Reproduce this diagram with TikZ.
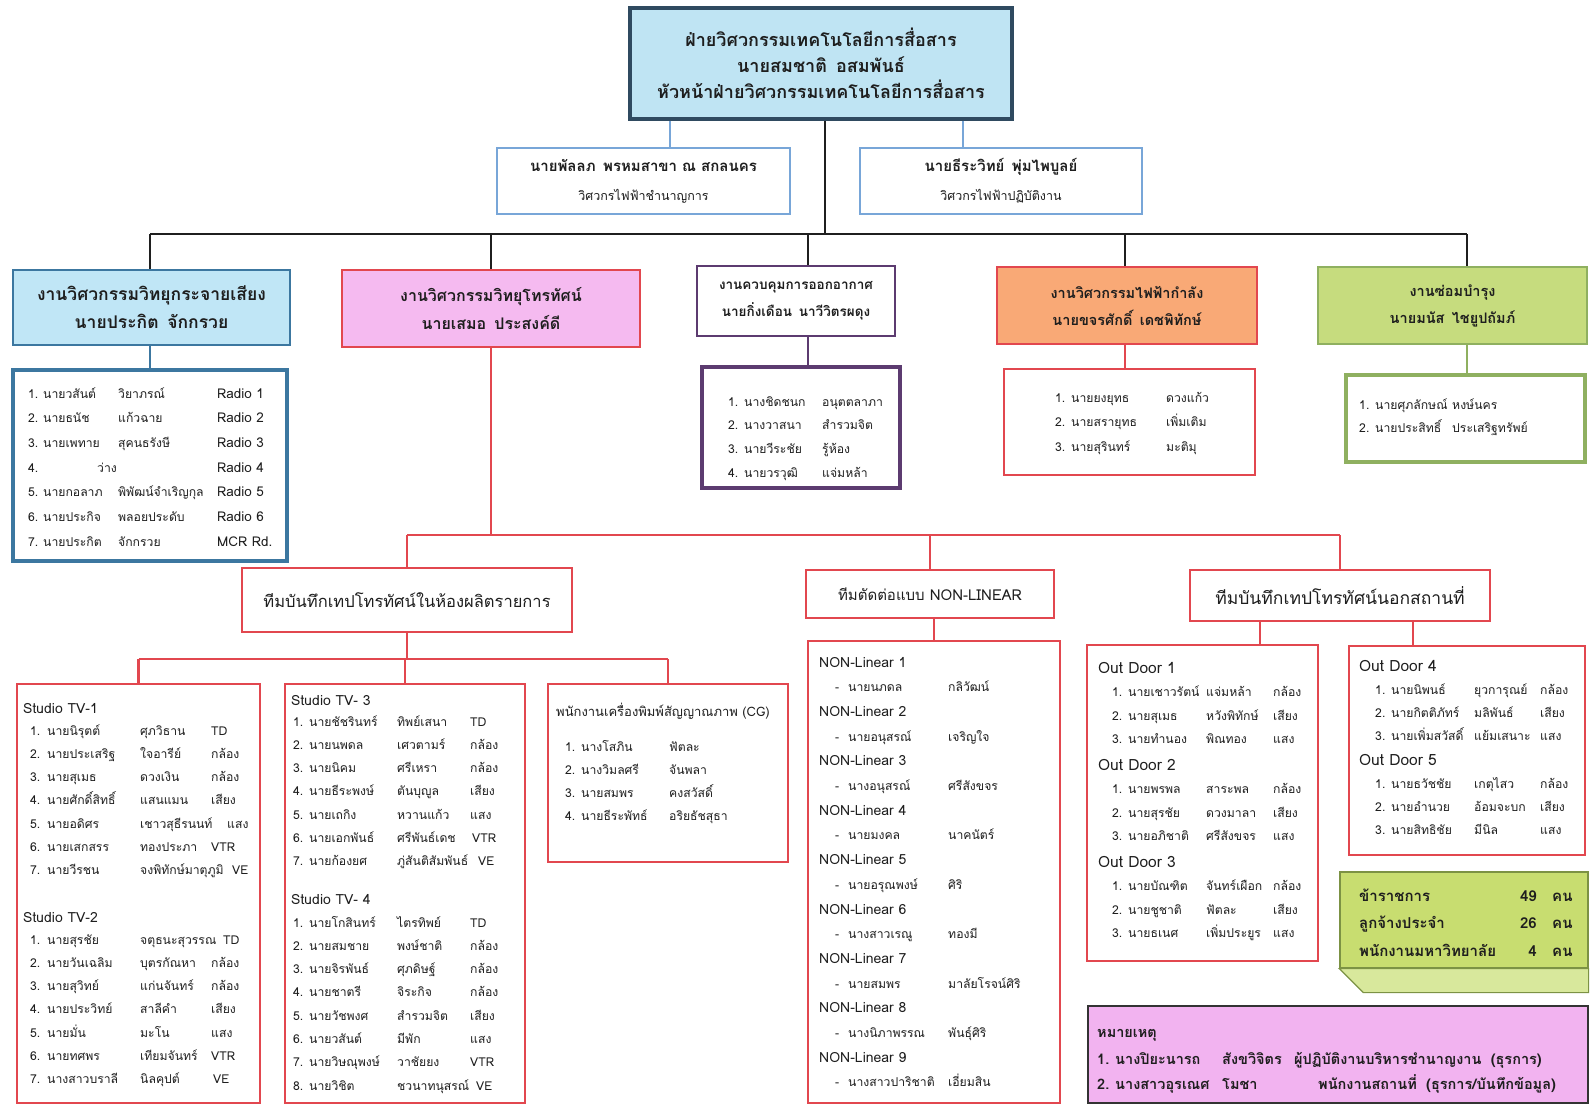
\documentclass[tikz,border=0pt]{standalone}
\usepackage{fontspec}
\setmainfont{Loma}[Script=Thai]
\usetikzlibrary{positioning}

\definecolor{topfill}{HTML}{BFE4F3}
\definecolor{topline}{HTML}{2F4A60}
\definecolor{engline}{HTML}{78A6D8}
\definecolor{bluefill}{HTML}{C0E6F6}
\definecolor{blueline}{HTML}{3C77A0}
\definecolor{pinkfill}{HTML}{F5BAF0}
\definecolor{redline}{HTML}{E2474F}
\definecolor{purpline}{HTML}{5C3B70}
\definecolor{orangefill}{HTML}{F9A976}
\definecolor{greenfill}{HTML}{C6DC7E}
\definecolor{greenline}{HTML}{8FB060}
\definecolor{tallyfill}{HTML}{C8DD70}
\definecolor{tallybevel}{HTML}{D8E89C}
\definecolor{tallyline}{HTML}{7C9244}
\definecolor{notefill}{HTML}{F2B3F0}
\definecolor{ink}{HTML}{1E1E1E}

\newcommand\headsz{\fontsize{18}{26}\selectfont}
\newcommand\deptsz{\fontsize{14.5}{27}\selectfont}
\newcommand\listsz{\fontsize{12.2}{14}\selectfont}

\tikzset{
  sz/.style 2 args={minimum width=#1pt, minimum height=#2pt},
  frame/.style={rectangle, inner sep=0pt, text=ink, align=center, fill=white},
  headbox/.style={frame, draw=topline, fill=topfill, line width=3.5pt, font=\headsz\bfseries},
  engbox/.style={frame, draw=engline, line width=1.6pt, font=\fontsize{15}{29}\selectfont\bfseries},
  deptbox/.style={frame, line width=2.6pt, font=\deptsz\bfseries},
  crewbox/.style={frame, line width=3.2pt},
  teambox/.style={frame, draw=redline, line width=2.2pt},
  lst/.style={anchor=west, inner sep=0pt, text=ink, font=\listsz, text height=9pt, text depth=3pt},
  lsthead/.style={lst, font=\fontsize{14}{16}\selectfont},
  trunk/.style={draw=black!88, line width=2.6pt},
  redwire/.style={draw=redline, line width=2.2pt},
}

\begin{document}
\begin{tikzpicture}[x=1pt,y=-1pt]
\useasboundingbox (0,0) rectangle (1590,1105);
\fill[white] (0,0) rectangle (1590,1105);

% Head of division
\node[headbox, sz={382}{111}] (head) at (821,63.5)
  {ฝ่ายวิศวกรรมเทคโนโลยีการสื่อสาร\\นายสมชาติ\hspace{0.5em}อสมพันธ์\\หัวหน้าฝ่ายวิศวกรรมเทคโนโลยีการสื่อสาร};

% Engineers
\node[engbox, sz={293}{66}] (e1) at (643.5,181)
  {นายพัลลภ\hspace{0.5em}พรหมสาขา ณ สกลนคร\\{\fontsize{12.5}{14}\selectfont\mdseries วิศวกรไฟฟ้าชำนาญการ}};
\node[engbox, sz={282}{66}] (e2) at (1001,181)
  {นายธีระวิทย์\hspace{0.5em}พุ่มไพบูลย์\\{\fontsize{12.5}{14}\selectfont\mdseries วิศวกรไฟฟ้าปฏิบัติงาน}};
\coordinate (kL) at (670,0);
\coordinate (kR) at (963,0);
\draw[draw=engline, line width=2pt] (head.south -| kL) -- (e1.north -| kL);
\draw[draw=engline, line width=2pt] (head.south -| kR) -- (e2.north -| kR);

% Departments
\node[deptbox, draw=blueline, fill=bluefill, sz={277}{75}, font=\fontsize{17.5}{28}\selectfont\bfseries] (d1) at (151.5,307.5)
  {งานวิศวกรรมวิทยุกระจายเสียง\\นายประกิต\hspace{0.5em}จักกรวย};
\node[deptbox, draw=redline, fill=pinkfill, sz={298}{77}, font=\fontsize{16}{28}\selectfont\bfseries] (d2) at (491,308.5)
  {งานวิศวกรรมวิทยุโทรทัศน์\\นายเสมอ\hspace{0.5em}ประสงค์ดี};
\node[deptbox, draw=purpline, sz={198}{70}, font=\fontsize{13.5}{27}\selectfont\bfseries] (d3) at (796,301)
  {งานควบคุมการออกอากาศ\\นายกิ่งเดือน\hspace{0.5em}นาวีวิตรผดุง};
\node[deptbox, draw=redline, fill=orangefill, sz={260}{77}] (d4) at (1127,305.5)
  {งานวิศวกรรมไฟฟ้ากำลัง\\นายขจรศักดิ์\hspace{0.5em}เดชพิทักษ์};
\node[deptbox, draw=greenline, fill=greenfill, sz={269}{77}] (d5) at (1452.5,305.5)
  {งานซ่อมบำรุง\\นายมนัส\hspace{0.5em}ไชยูปถัมภ์};

% Staff boxes
\node[crewbox, draw=blueline, sz={274}{191}] (m1) at (150,465.5) {};
\node[crewbox, draw=purpline, sz={198}{121}] (m3) at (801,427.5) {};
\node[crewbox, draw=redline, line width=2.4pt, sz={251}{106}] (m4) at (1129.5,422) {};
\node[crewbox, draw=greenline, sz={239}{87}] (m5) at (1465.5,418.5) {};

% Black bus
\coordinate (bus) at (0,234);
\coordinate (k1) at (150,0);
\coordinate (k3) at (808,0);
\coordinate (k4) at (1125,0);
\coordinate (k5) at (1467,0);
\draw[trunk] (head.south -| 825,0) -- (bus -| 825,0);
\draw[trunk] (bus -| k1) -- (bus -| k5);
\draw[trunk] (bus -| k1) -- (d1.north -| k1);
\draw[trunk] (bus -| d2.north) -- (d2.north);
\draw[trunk] (bus -| k3) -- (d3.north -| k3);
\draw[trunk] (bus -| k4) -- (d4.north -| k4);
\draw[trunk] (bus -| k5) -- (d5.north -| k5);
\draw[draw=blueline, line width=2.6pt] (d1.south -| k1) -- (m1.north -| k1);
\draw[draw=purpline, line width=2.6pt] (d3.south -| k3) -- (m3.north -| k3);
\draw[redwire] (d4.south -| k4) -- (m4.north -| k4);
\draw[draw=greenline, line width=2.6pt] (d5.south -| k5) -- (m5.north -| k5);

% Radio staff
\foreach \fn/\sn/\rl [count=\i] in {นายวสันต์/วิยาภรณ์/Radio 1, นายธนัช/แก้วฉาย/Radio 2, นายเพทาย/สุคนธรังษี/Radio 3, {\hspace{54pt}ว่าง}/{}/Radio 4, นายกอลาภ/พิพัฒน์จำเริญกุล/Radio 5, นายประกิจ/พลอยประดับ/Radio 6, นายประกิต/จักกรวย/MCR Rd.}{
  \pgfmathsetmacro\yy{395+24.7*(\i-1)}
  \node[lst] (rn\i) at (28,\yy) {\i.};
  \node[lst] (ra\i) at (43,\yy) {\fn};
  \node[lst] (rb\i) at (118,\yy) {\sn};
  \node[lst, font=\fontsize{13.5}{15}\selectfont] (rr\i) at (217,\yy) {\rl};
}
% On-air staff
\foreach \fn/\sn [count=\i] in {นางชิดชนก/อนุตตลาภา, นางวาสนา/สำรวมจิต, นายวีระชัย/รู้ห้อง, นายวรวุฒิ/แจ่มหล้า}{
  \pgfmathsetmacro\yy{403+23.7*(\i-1)}
  \node[lst] (an\i) at (728,\yy) {\i.};
  \node[lst] (aa\i) at (744,\yy) {\fn};
  \node[lst] (ab\i) at (822,\yy) {\sn};
}
% Power staff
\foreach \fn/\sn [count=\i] in {นายยงยุทธ/ดวงแก้ว, นายสรายุทธ/เพิ่มเติม, นายสุรินทร์/มะติมุ}{
  \pgfmathsetmacro\yy{399+24.5*(\i-1)}
  \node[lst] (pn\i) at (1055,\yy) {\i.};
  \node[lst] (pa\i) at (1071,\yy) {\fn};
  \node[lst] (pb\i) at (1166,\yy) {\sn};
}
% Maintenance staff
\foreach \fn/\sn [count=\i] in {นายศุภลักษณ์/หงษ์นคร, นายประสิทธิ์/ประเสริฐทรัพย์}{
  \pgfmathsetmacro\yy{406+23.5*(\i-1)}
  \node[lst] (gn\i) at (1359,\yy) {\i.};
  \node[lst] (ga\i) at (1375,\yy) {\fn};
  \node[lst] (gb\i) at (1452,\yy) {\sn};
}

% TV teams
\node[teambox, sz={330}{64}, font=\fontsize{16.5}{18}\selectfont] (t1) at (407,600) {ทีมบันทึกเทปโทรทัศน์ในห้องผลิตรายการ};
\node[teambox, sz={248}{48}, font=\fontsize{15}{18}\selectfont] (t2) at (930,594) {ทีมตัดต่อแบบ NON-LINEAR};
\node[teambox, sz={300}{51}, font=\fontsize{17.5}{18}\selectfont] (t3) at (1340,595.5) {ทีมบันทึกเทปโทรทัศน์นอกสถานที่};
\coordinate (rbus) at (0,535);
\draw[redwire] (d2.south) -- (d2.south |- rbus);
\draw[redwire] (rbus -| t1.north) -- (rbus -| t3.north);
\foreach \t in {t1,t2,t3} \draw[redwire] (rbus -| \t.north) -- (\t.north);

% Studio boxes
\node[frame, draw=redline, line width=2.2pt, sz={243}{419}] (s12) at (138.5,893.5) {};
\node[frame, draw=redline, line width=2.2pt, sz={240}{419}] (s34) at (405,893.5) {};
\node[frame, draw=redline, line width=2.2pt, sz={240}{178}] (cg) at (668,773) {};
\node[frame, draw=redline, line width=2.2pt, sz={252}{462}] (nl) at (934,872) {};
\node[frame, draw=redline, line width=2.2pt, sz={231}{316}] (od1) at (1202.5,803) {};
\node[frame, draw=redline, line width=2.2pt, sz={236}{209}] (od4) at (1467,750.5) {};
\coordinate (sbus) at (0,659);
\draw[redwire] (t1.south) -- (t1.south |- sbus);
\draw[redwire] (sbus -| s12.north) -- (sbus -| cg.north);
\foreach \t in {s12,s34,cg} \draw[redwire] (sbus -| \t.north) -- (\t.north);
\draw[redwire] (t2.south -| nl.north) -- (nl.north);
\coordinate (k6) at (1260,0);
\coordinate (k7) at (1413,0);
\draw[redwire] (t3.south -| k6) -- (od1.north -| k6);
\draw[redwire] (t3.south -| k7) -- (od4.north -| k7);

% Studio TV-1 and TV-2
\node[lsthead] (s1h) at (23,710) {Studio TV-1};
\foreach \fn/\sn/\rl/\rx [count=\i] in {นายนิรุตต์/ศุภวิธาน/TD/211, นายประเสริฐ/ใจอารีย์/กล้อง/211, นายสุเมธ/ดวงเงิน/กล้อง/211, นายศักดิ์สิทธิ์/แสนแมน/เสียง/211, นายอดิศร/เชาวสุธีรนนท์/แสง/227, นายเสกสรร/ทองประภา/VTR/211, นายวีรชน/จงพิทักษ์มาตุภูมิ/VE/232}{
  \pgfmathsetmacro\yy{732+23.3*(\i-1)}
  \node[lst] (s1n\i) at (30,\yy) {\i.};
  \node[lst] (s1a\i) at (47,\yy) {\fn};
  \node[lst] (s1b\i) at (140,\yy) {\sn};
  \node[lst] (s1r\i) at (\rx,\yy) {\rl};
}
\node[lsthead] (s2h) at (23,919) {Studio TV-2};
\foreach \fn/\sn/\rl/\rx [count=\i] in {นายสุรชัย/จตุธนะสุวรรณ/TD/223, นายวันเฉลิม/บุตรกัณหา/กล้อง/211, นายสุวิทย์/แก่นจันทร์/กล้อง/211, นายประวิทย์/สาลีคำ/เสียง/211, นายมั่น/มะโน/แสง/211, นายทศพร/เทียมจันทร์/VTR/211, นางสาวบราลี/นิลคุปต์/VE/213}{
  \pgfmathsetmacro\yy{941+23.3*(\i-1)}
  \node[lst] (s2n\i) at (30,\yy) {\i.};
  \node[lst] (s2a\i) at (47,\yy) {\fn};
  \node[lst] (s2b\i) at (140,\yy) {\sn};
  \node[lst] (s2r\i) at (\rx,\yy) {\rl};
}

% Studio TV-3 and TV-4
\node[lsthead] (s3h) at (291,702) {Studio TV- 3};
\foreach \fn/\sn/\rl/\rx [count=\i] in {นายชัชรินทร์/ทิพย์เสนา/TD/470, นายนพดล/เศวตามร์/กล้อง/470, นายนิคม/ศรีเหรา/กล้อง/470, นายธีระพงษ์/ตันบุญูล/เสียง/470, นายเถกิง/หวานแก้ว/แสง/470, นายเอกพันธ์/ศรีพันธ์เดช/VTR/472, นายก้องยศ/ภู่สันติสัมพันธ์/VE/478}{
  \pgfmathsetmacro\yy{723+23.3*(\i-1)}
  \node[lst] (s3n\i) at (293,\yy) {\i.};
  \node[lst] (s3a\i) at (309,\yy) {\fn};
  \node[lst] (s3b\i) at (397,\yy) {\sn};
  \node[lst] (s3r\i) at (\rx,\yy) {\rl};
}
\node[lsthead] (s4h) at (291,901) {Studio TV- 4};
\foreach \fn/\sn/\rl/\rx [count=\i] in {นายโกสินทร์/ไตรทิพย์/TD/470, นายสมชาย/พงษ์ชาติ/กล้อง/470, นายจิรพันธ์/ศุภดิษฐ์/กล้อง/470, นายชาตรี/จิระกิจ/กล้อง/470, นายวัชพงศ/สำรวมจิต/เสียง/470, นายวสันต์/มีพัก/แสง/470, นายวิษณุพงษ์/วาชัยยง/VTR/470, นายวิชิต/ชวนาทนุสรณ์/VE/476}{
  \pgfmathsetmacro\yy{924+23.3*(\i-1)}
  \node[lst] (s4n\i) at (293,\yy) {\i.};
  \node[lst] (s4a\i) at (309,\yy) {\fn};
  \node[lst] (s4b\i) at (397,\yy) {\sn};
  \node[lst] (s4r\i) at (\rx,\yy) {\rl};
}

% CG staff
\node[lst, font=\fontsize{13}{15}\selectfont] (cgh) at (556,713) {พนักงานเครื่องพิมพ์สัญญาณภาพ (CG)};
\foreach \fn/\sn [count=\i] in {นางโสภิน/ฟัตละ, นางวิมลศรี/จันพลา, นายสมพร/คงสวัสดิ์, นายธีระพัทธ์/อริยธัชสุธา}{
  \pgfmathsetmacro\yy{748+23.3*(\i-1)}
  \node[lst] (cgn\i) at (565,\yy) {\i.};
  \node[lst] (cga\i) at (581,\yy) {\fn};
  \node[lst] (cgb\i) at (669,\yy) {\sn};
}

% Non-linear editors
\foreach \fn/\sn [count=\i] in {นายนภดล/กลิวัฒน์, นายอนุสรณ์/เจริญใจ, นางอนุสรณ์/ศรีสังขจร, นายมงคล/นาคนัตร์, นายอรุณพงษ์/ศิริ, นางสาวเรณู/ทองมี, นายสมพร/มาลัยโรจน์ศิริ, นางนิภาพรรณ/พันธุ์ศิริ, นางสาวปาริชาติ/เอี่ยมสิน}{
  \pgfmathsetmacro\yy{664+49.4*(\i-1)}
  \node[lsthead] (nlh\i) at (819,\yy) {NON-Linear \i};
  \node[lst] (nld\i) at (835,\yy+24.7) {-};
  \node[lst] (nla\i) at (848,\yy+24.7) {\fn};
  \node[lst] (nlb\i) at (948,\yy+24.7) {\sn};
}

% Out door 1-3
\foreach \fn/\sn/\rl [count=\i] in {นายเชาวรัตน์/แจ่มหล้า/กล้อง, นายสุเมธ/หวังพิทักษ์/เสียง, นายทำนอง/พิณทอง/แสง, นายพรพล/สาระพล/กล้อง, นายสุรชัย/ดวงมาลา/เสียง, นายอภิชาติ/ศรีสังขจร/แสง, นายบัณฑิต/จันทร์เผือก/กล้อง, นายชูชาติ/ฟัตละ/เสียง, นายธเนศ/เพิ่มประยูร/แสง}{
  \pgfmathtruncatemacro\grp{(\i-1)/3}
  \pgfmathtruncatemacro\num{\i-3*\grp}
  \pgfmathsetmacro\yy{670+97*\grp+23.5*\num}
  \node[lst] (odn\i) at (1112,\yy) {\num.};
  \node[lst] (oda\i) at (1128,\yy) {\fn};
  \node[lst] (odb\i) at (1206,\yy) {\sn};
  \node[lst] (odr\i) at (1273,\yy) {\rl};
}
\foreach \g in {1,2,3} \node[lst, font=\fontsize{15.5}{17}\selectfont] (odh\g) at (1098,{670+97*(\g-1)}) {Out Door \g};

% Out door 4-5
\foreach \fn/\sn/\rl [count=\i] in {นายนิพนธ์/ยุวการุณย์/กล้อง, นายกิตติภัทร์/มลิพันธ์/เสียง, นายเพิ่มสวัสดิ์/แย้มเสนาะ/แสง, นายธวัชชัย/เกตุไสว/กล้อง, นายอำนวย/อ้อมจะบก/เสียง, นายสิทธิชัย/มีนิล/แสง}{
  \pgfmathtruncatemacro\grp{(\i-1)/3}
  \pgfmathtruncatemacro\num{\i-3*\grp}
  \pgfmathsetmacro\yy{668+94*\grp+23*\num}
  \node[lst] (oen\i) at (1375,\yy) {\num.};
  \node[lst] (oea\i) at (1391,\yy) {\fn};
  \node[lst] (oeb\i) at (1474,\yy) {\sn};
  \node[lst] (oer\i) at (1540,\yy) {\rl};
}
\foreach \g in {4,5} \node[lst, font=\fontsize{15.5}{17}\selectfont] (odh\g) at (1359,{668+94*(\g-4)}) {Out Door \g};

% Head count
\node[frame, draw=tallyline, fill=tallyfill, line width=1.2pt, sz={248}{96}] (tally) at (1464,920) {};
\fill[tallybevel, draw=tallyline, line width=1.2pt] (tally.south west) -- (tally.south east) -- ([yshift=-24pt]tally.south east) -- ([xshift=24pt,yshift=-24pt]tally.south west) -- cycle;
\foreach \lb/\nm [count=\i] in {ข้าราชการ/49, ลูกจ้างประจำ/26, พนักงานมหาวิทยาลัย/4}{
  \pgfmathsetmacro\yy{898+27.5*(\i-1)}
  \node[lst, font=\fontsize{15}{18}\selectfont\bfseries] (tl\i) at (1359,\yy) {\lb};
  \node[lst, anchor=east, font=\fontsize{15}{18}\selectfont\bfseries] (tn\i) at (1537,\yy) {\nm};
  \node[lst, font=\fontsize{15}{18}\selectfont\bfseries] (tu\i) at (1552,\yy) {คน};
}

% Remarks
\node[frame, draw=black!80, fill=notefill, line width=2pt, sz={500}{97}] (note) at (1338,1054.5) {};
\begin{scope}[every node/.style={lst, font=\fontsize{14.5}{16}\selectfont\bfseries}]
\node (nt0) at (1097,1034) {หมายเหตุ};
\node (nt1) at (1097,1061) {1.};
\node (nt2) at (1115,1061) {นางปิยะนารถ};
\node (nt3) at (1222,1061) {สังขวิจิตร};
\node (nt4) at (1294,1061) {ผู้ปฏิบัติงานบริหารชำนาญงาน};
\node[right=9pt of nt4] (nt5) {(ธุรการ)};
\node (nt6) at (1097,1086) {2.};
\node (nt7) at (1115,1086) {นางสาวอุรเณศ};
\node (nt8) at (1222,1086) {โมชา};
\node (nt9) at (1318,1086) {พนักงานสถานที่};
\node[right=9pt of nt9] (nt10) {(ธุรการ/บันทึกข้อมูล)};
\end{scope}
\end{tikzpicture}
\end{document}
